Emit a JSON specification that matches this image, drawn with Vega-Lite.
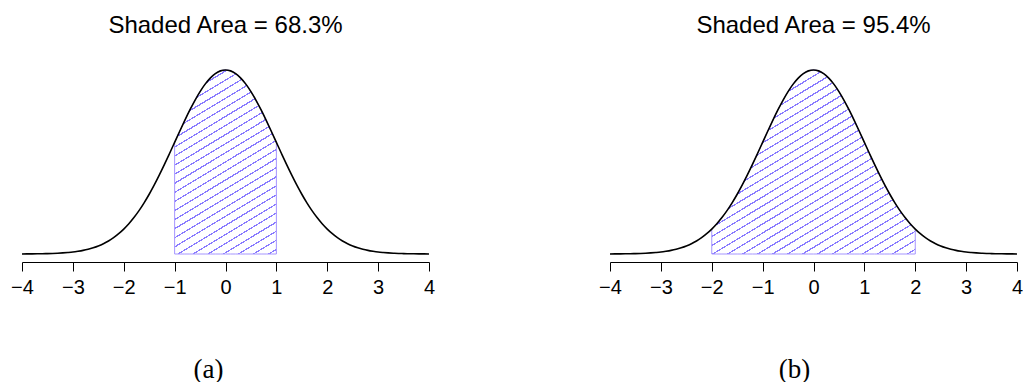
{
"$schema": "https://vega.github.io/schema/vega-lite/v6.json",
"background": "white",
"padding": {"left": 10, "top": 13, "right": 0, "bottom": 0},
"bounds": "flush",
"spacing": 181,
"config": {"view": {"stroke": null}, "font": "Liberation Sans"},
"datasets": {"curve": [
{"x":-4,"d":0.0001},{"x":-3.9,"d":0.0002},{"x":-3.8,"d":0.0003},{"x":-3.7,"d":0.0004},{"x":-3.6,"d":0.0006},{"x":-3.5,"d":0.0009},{"x":-3.4,"d":0.0012},{"x":-3.3,"d":0.0017},{"x":-3.2,"d":0.0024},{"x":-3.1,"d":0.0033},
{"x":-3,"d":0.0044},{"x":-2.9,"d":0.006},{"x":-2.8,"d":0.0079},{"x":-2.7,"d":0.0104},{"x":-2.6,"d":0.0136},{"x":-2.5,"d":0.0175},{"x":-2.4,"d":0.0224},{"x":-2.3,"d":0.0283},{"x":-2.2,"d":0.0355},{"x":-2.1,"d":0.044},
{"x":-2,"d":0.054},{"x":-1.9,"d":0.0656},{"x":-1.8,"d":0.079},{"x":-1.7,"d":0.094},{"x":-1.6,"d":0.1109},{"x":-1.5,"d":0.1295},{"x":-1.4,"d":0.1497},{"x":-1.3,"d":0.1714},{"x":-1.2,"d":0.1942},{"x":-1.1,"d":0.2179},
{"x":-1,"d":0.242},{"x":-0.9,"d":0.2661},{"x":-0.8,"d":0.2897},{"x":-0.7,"d":0.3123},{"x":-0.6,"d":0.3332},{"x":-0.5,"d":0.3521},{"x":-0.4,"d":0.3683},{"x":-0.3,"d":0.3814},{"x":-0.2,"d":0.391},{"x":-0.1,"d":0.397},
{"x":0,"d":0.3989},
{"x":0.1,"d":0.397},{"x":0.2,"d":0.391},{"x":0.3,"d":0.3814},{"x":0.4,"d":0.3683},{"x":0.5,"d":0.3521},{"x":0.6,"d":0.3332},{"x":0.7,"d":0.3123},{"x":0.8,"d":0.2897},{"x":0.9,"d":0.2661},{"x":1,"d":0.242},
{"x":1.1,"d":0.2179},{"x":1.2,"d":0.1942},{"x":1.3,"d":0.1714},{"x":1.4,"d":0.1497},{"x":1.5,"d":0.1295},{"x":1.6,"d":0.1109},{"x":1.7,"d":0.094},{"x":1.8,"d":0.079},{"x":1.9,"d":0.0656},{"x":2,"d":0.054},
{"x":2.1,"d":0.044},{"x":2.2,"d":0.0355},{"x":2.3,"d":0.0283},{"x":2.4,"d":0.0224},{"x":2.5,"d":0.0175},{"x":2.6,"d":0.0136},{"x":2.7,"d":0.0104},{"x":2.8,"d":0.0079},{"x":2.9,"d":0.006},{"x":3,"d":0.0044},
{"x":3.1,"d":0.0033},{"x":3.2,"d":0.0024},{"x":3.3,"d":0.0017},{"x":3.4,"d":0.0012},{"x":3.5,"d":0.0009},{"x":3.6,"d":0.0006},{"x":3.7,"d":0.0004},{"x":3.8,"d":0.0003},{"x":3.9,"d":0.0002},{"x":4,"d":0.0001}
]},
"hconcat": [
{
"width": 407, "height": 184,
"title": {"text": "Shaded Area = 68.3%", "fontSize": 24, "fontWeight": "normal", "font": "Liberation Sans", "color": "black", "baseline": "alphabetic", "offset": 10},
"data": {"name": "curve"},
"encoding": {
"x": {"field": "x", "type": "quantitative", "scale": {"domain": [-4, 4], "nice": false, "zero": false},
"axis": {"values": [-4,-3,-2,-1,0,1,2,3,4], "format": "d", "offset": 8, "tickSize": 9, "domainColor": "black", "tickColor": "black", "labelColor": "black", "labelFontSize": 20, "labelFont": "Liberation Sans", "labelPadding": 6, "grid": false, "labelFlush": false, "domainWidth": 1, "tickWidth": 1,
"title": "(a)", "titleFont": "Liberation Serif", "titleFontSize": 27, "titleFontWeight": "normal", "titleColor": "black", "titleX": 186, "titleY": 115, "titleBaseline": "alphabetic"}},
"y": {"field": "d", "type": "quantitative", "scale": {"domain": [0, 0.3989], "nice": false}, "axis": null}
},
"layer": [
{"transform": [{"filter": {"field": "x", "range": [-1, 1]}}],
"mark": {"type": "area", "interpolate": "monotone", "stroke": "#a595ff", "strokeWidth": 1,
"fill": {"gradient": "linear", "x1": 0, "y1": 0, "x2": 0.399, "y2": 1.2, "stops": [
{"offset":0.0148,"color":"#fff"},{"offset":0.0148,"color":"#8a7cff"},{"offset":0.0207,"color":"#8a7cff"},{"offset":0.0207,"color":"#fff"},
{"offset":0.0519,"color":"#fff"},{"offset":0.0519,"color":"#8a7cff"},{"offset":0.0578,"color":"#8a7cff"},{"offset":0.0578,"color":"#fff"},
{"offset":0.0889,"color":"#fff"},{"offset":0.0889,"color":"#8a7cff"},{"offset":0.0948,"color":"#8a7cff"},{"offset":0.0948,"color":"#fff"},
{"offset":0.1259,"color":"#fff"},{"offset":0.1259,"color":"#8a7cff"},{"offset":0.1318,"color":"#8a7cff"},{"offset":0.1318,"color":"#fff"},
{"offset":0.1630,"color":"#fff"},{"offset":0.1630,"color":"#8a7cff"},{"offset":0.1689,"color":"#8a7cff"},{"offset":0.1689,"color":"#fff"},
{"offset":0.2000,"color":"#fff"},{"offset":0.2000,"color":"#8a7cff"},{"offset":0.2059,"color":"#8a7cff"},{"offset":0.2059,"color":"#fff"},
{"offset":0.2370,"color":"#fff"},{"offset":0.2370,"color":"#8a7cff"},{"offset":0.2429,"color":"#8a7cff"},{"offset":0.2429,"color":"#fff"},
{"offset":0.2741,"color":"#fff"},{"offset":0.2741,"color":"#8a7cff"},{"offset":0.2800,"color":"#8a7cff"},{"offset":0.2800,"color":"#fff"},
{"offset":0.3111,"color":"#fff"},{"offset":0.3111,"color":"#8a7cff"},{"offset":0.3170,"color":"#8a7cff"},{"offset":0.3170,"color":"#fff"},
{"offset":0.3481,"color":"#fff"},{"offset":0.3481,"color":"#8a7cff"},{"offset":0.3540,"color":"#8a7cff"},{"offset":0.3540,"color":"#fff"},
{"offset":0.3852,"color":"#fff"},{"offset":0.3852,"color":"#8a7cff"},{"offset":0.3911,"color":"#8a7cff"},{"offset":0.3911,"color":"#fff"},
{"offset":0.4222,"color":"#fff"},{"offset":0.4222,"color":"#8a7cff"},{"offset":0.4281,"color":"#8a7cff"},{"offset":0.4281,"color":"#fff"},
{"offset":0.4593,"color":"#fff"},{"offset":0.4593,"color":"#8a7cff"},{"offset":0.4652,"color":"#8a7cff"},{"offset":0.4652,"color":"#fff"},
{"offset":0.4963,"color":"#fff"},{"offset":0.4963,"color":"#8a7cff"},{"offset":0.5022,"color":"#8a7cff"},{"offset":0.5022,"color":"#fff"},
{"offset":0.5333,"color":"#fff"},{"offset":0.5333,"color":"#8a7cff"},{"offset":0.5392,"color":"#8a7cff"},{"offset":0.5392,"color":"#fff"},
{"offset":0.5704,"color":"#fff"},{"offset":0.5704,"color":"#8a7cff"},{"offset":0.5763,"color":"#8a7cff"},{"offset":0.5763,"color":"#fff"},
{"offset":0.6074,"color":"#fff"},{"offset":0.6074,"color":"#8a7cff"},{"offset":0.6133,"color":"#8a7cff"},{"offset":0.6133,"color":"#fff"},
{"offset":0.6444,"color":"#fff"},{"offset":0.6444,"color":"#8a7cff"},{"offset":0.6503,"color":"#8a7cff"},{"offset":0.6503,"color":"#fff"},
{"offset":0.6815,"color":"#fff"},{"offset":0.6815,"color":"#8a7cff"},{"offset":0.6874,"color":"#8a7cff"},{"offset":0.6874,"color":"#fff"},
{"offset":0.7185,"color":"#fff"},{"offset":0.7185,"color":"#8a7cff"},{"offset":0.7244,"color":"#8a7cff"},{"offset":0.7244,"color":"#fff"},
{"offset":0.7556,"color":"#fff"},{"offset":0.7556,"color":"#8a7cff"},{"offset":0.7615,"color":"#8a7cff"},{"offset":0.7615,"color":"#fff"},
{"offset":0.7926,"color":"#fff"},{"offset":0.7926,"color":"#8a7cff"},{"offset":0.7985,"color":"#8a7cff"},{"offset":0.7985,"color":"#fff"},
{"offset":0.8296,"color":"#fff"},{"offset":0.8296,"color":"#8a7cff"},{"offset":0.8355,"color":"#8a7cff"},{"offset":0.8355,"color":"#fff"},
{"offset":0.8667,"color":"#fff"},{"offset":0.8667,"color":"#8a7cff"},{"offset":0.8726,"color":"#8a7cff"},{"offset":0.8726,"color":"#fff"},
{"offset":0.9037,"color":"#fff"},{"offset":0.9037,"color":"#8a7cff"},{"offset":0.9096,"color":"#8a7cff"},{"offset":0.9096,"color":"#fff"},
{"offset":0.9407,"color":"#fff"},{"offset":0.9407,"color":"#8a7cff"},{"offset":0.9466,"color":"#8a7cff"},{"offset":0.9466,"color":"#fff"},
{"offset":0.9778,"color":"#fff"},{"offset":0.9778,"color":"#8a7cff"},{"offset":0.9837,"color":"#8a7cff"},{"offset":0.9837,"color":"#fff"}
]}}},
{"mark": {"type": "line", "color": "black", "strokeWidth": 1.6, "interpolate": "monotone"}}
]
},
{
"width": 407, "height": 184,
"title": {"text": "Shaded Area = 95.4%", "fontSize": 24, "fontWeight": "normal", "font": "Liberation Sans", "color": "black", "baseline": "alphabetic", "offset": 10},
"data": {"name": "curve"},
"encoding": {
"x": {"field": "x", "type": "quantitative", "scale": {"domain": [-4, 4], "nice": false, "zero": false},
"axis": {"values": [-4,-3,-2,-1,0,1,2,3,4], "format": "d", "offset": 8, "tickSize": 9, "domainColor": "black", "tickColor": "black", "labelColor": "black", "labelFontSize": 20, "labelFont": "Liberation Sans", "labelPadding": 6, "grid": false, "labelFlush": false, "domainWidth": 1, "tickWidth": 1,
"title": "(b)", "titleFont": "Liberation Serif", "titleFontSize": 27, "titleFontWeight": "normal", "titleColor": "black", "titleX": 184, "titleY": 115, "titleBaseline": "alphabetic"}},
"y": {"field": "d", "type": "quantitative", "scale": {"domain": [0, 0.3989], "nice": false}, "axis": null}
},
"layer": [
{"transform": [{"filter": {"field": "x", "range": [-2, 2]}}],
"mark": {"type": "area", "interpolate": "monotone", "stroke": "#a595ff", "strokeWidth": 1,
"fill": {"gradient": "linear", "x1": 0, "y1": 0, "x2": 0.768, "y2": 1.154, "stops": [
{"offset":0.0118,"color":"#fff"},{"offset":0.0118,"color":"#8a7cff"},{"offset":0.0165,"color":"#8a7cff"},{"offset":0.0165,"color":"#fff"},
{"offset":0.0412,"color":"#fff"},{"offset":0.0412,"color":"#8a7cff"},{"offset":0.0459,"color":"#8a7cff"},{"offset":0.0459,"color":"#fff"},
{"offset":0.0706,"color":"#fff"},{"offset":0.0706,"color":"#8a7cff"},{"offset":0.0753,"color":"#8a7cff"},{"offset":0.0753,"color":"#fff"},
{"offset":0.1000,"color":"#fff"},{"offset":0.1000,"color":"#8a7cff"},{"offset":0.1047,"color":"#8a7cff"},{"offset":0.1047,"color":"#fff"},
{"offset":0.1294,"color":"#fff"},{"offset":0.1294,"color":"#8a7cff"},{"offset":0.1341,"color":"#8a7cff"},{"offset":0.1341,"color":"#fff"},
{"offset":0.1588,"color":"#fff"},{"offset":0.1588,"color":"#8a7cff"},{"offset":0.1635,"color":"#8a7cff"},{"offset":0.1635,"color":"#fff"},
{"offset":0.1882,"color":"#fff"},{"offset":0.1882,"color":"#8a7cff"},{"offset":0.1929,"color":"#8a7cff"},{"offset":0.1929,"color":"#fff"},
{"offset":0.2176,"color":"#fff"},{"offset":0.2176,"color":"#8a7cff"},{"offset":0.2223,"color":"#8a7cff"},{"offset":0.2223,"color":"#fff"},
{"offset":0.2471,"color":"#fff"},{"offset":0.2471,"color":"#8a7cff"},{"offset":0.2518,"color":"#8a7cff"},{"offset":0.2518,"color":"#fff"},
{"offset":0.2765,"color":"#fff"},{"offset":0.2765,"color":"#8a7cff"},{"offset":0.2812,"color":"#8a7cff"},{"offset":0.2812,"color":"#fff"},
{"offset":0.3059,"color":"#fff"},{"offset":0.3059,"color":"#8a7cff"},{"offset":0.3106,"color":"#8a7cff"},{"offset":0.3106,"color":"#fff"},
{"offset":0.3353,"color":"#fff"},{"offset":0.3353,"color":"#8a7cff"},{"offset":0.3400,"color":"#8a7cff"},{"offset":0.3400,"color":"#fff"},
{"offset":0.3647,"color":"#fff"},{"offset":0.3647,"color":"#8a7cff"},{"offset":0.3694,"color":"#8a7cff"},{"offset":0.3694,"color":"#fff"},
{"offset":0.3941,"color":"#fff"},{"offset":0.3941,"color":"#8a7cff"},{"offset":0.3988,"color":"#8a7cff"},{"offset":0.3988,"color":"#fff"},
{"offset":0.4235,"color":"#fff"},{"offset":0.4235,"color":"#8a7cff"},{"offset":0.4282,"color":"#8a7cff"},{"offset":0.4282,"color":"#fff"},
{"offset":0.4529,"color":"#fff"},{"offset":0.4529,"color":"#8a7cff"},{"offset":0.4576,"color":"#8a7cff"},{"offset":0.4576,"color":"#fff"},
{"offset":0.4824,"color":"#fff"},{"offset":0.4824,"color":"#8a7cff"},{"offset":0.4871,"color":"#8a7cff"},{"offset":0.4871,"color":"#fff"},
{"offset":0.5118,"color":"#fff"},{"offset":0.5118,"color":"#8a7cff"},{"offset":0.5165,"color":"#8a7cff"},{"offset":0.5165,"color":"#fff"},
{"offset":0.5412,"color":"#fff"},{"offset":0.5412,"color":"#8a7cff"},{"offset":0.5459,"color":"#8a7cff"},{"offset":0.5459,"color":"#fff"},
{"offset":0.5706,"color":"#fff"},{"offset":0.5706,"color":"#8a7cff"},{"offset":0.5753,"color":"#8a7cff"},{"offset":0.5753,"color":"#fff"},
{"offset":0.6000,"color":"#fff"},{"offset":0.6000,"color":"#8a7cff"},{"offset":0.6047,"color":"#8a7cff"},{"offset":0.6047,"color":"#fff"},
{"offset":0.6294,"color":"#fff"},{"offset":0.6294,"color":"#8a7cff"},{"offset":0.6341,"color":"#8a7cff"},{"offset":0.6341,"color":"#fff"},
{"offset":0.6588,"color":"#fff"},{"offset":0.6588,"color":"#8a7cff"},{"offset":0.6635,"color":"#8a7cff"},{"offset":0.6635,"color":"#fff"},
{"offset":0.6882,"color":"#fff"},{"offset":0.6882,"color":"#8a7cff"},{"offset":0.6929,"color":"#8a7cff"},{"offset":0.6929,"color":"#fff"},
{"offset":0.7176,"color":"#fff"},{"offset":0.7176,"color":"#8a7cff"},{"offset":0.7223,"color":"#8a7cff"},{"offset":0.7223,"color":"#fff"},
{"offset":0.7471,"color":"#fff"},{"offset":0.7471,"color":"#8a7cff"},{"offset":0.7518,"color":"#8a7cff"},{"offset":0.7518,"color":"#fff"},
{"offset":0.7765,"color":"#fff"},{"offset":0.7765,"color":"#8a7cff"},{"offset":0.7812,"color":"#8a7cff"},{"offset":0.7812,"color":"#fff"},
{"offset":0.8059,"color":"#fff"},{"offset":0.8059,"color":"#8a7cff"},{"offset":0.8106,"color":"#8a7cff"},{"offset":0.8106,"color":"#fff"},
{"offset":0.8353,"color":"#fff"},{"offset":0.8353,"color":"#8a7cff"},{"offset":0.8400,"color":"#8a7cff"},{"offset":0.8400,"color":"#fff"},
{"offset":0.8647,"color":"#fff"},{"offset":0.8647,"color":"#8a7cff"},{"offset":0.8694,"color":"#8a7cff"},{"offset":0.8694,"color":"#fff"},
{"offset":0.8941,"color":"#fff"},{"offset":0.8941,"color":"#8a7cff"},{"offset":0.8988,"color":"#8a7cff"},{"offset":0.8988,"color":"#fff"},
{"offset":0.9235,"color":"#fff"},{"offset":0.9235,"color":"#8a7cff"},{"offset":0.9282,"color":"#8a7cff"},{"offset":0.9282,"color":"#fff"},
{"offset":0.9529,"color":"#fff"},{"offset":0.9529,"color":"#8a7cff"},{"offset":0.9576,"color":"#8a7cff"},{"offset":0.9576,"color":"#fff"},
{"offset":0.9824,"color":"#fff"},{"offset":0.9824,"color":"#8a7cff"},{"offset":0.9871,"color":"#8a7cff"},{"offset":0.9871,"color":"#fff"}
]}}},
{"mark": {"type": "line", "color": "black", "strokeWidth": 1.6, "interpolate": "monotone"}}
]
}
]
}
